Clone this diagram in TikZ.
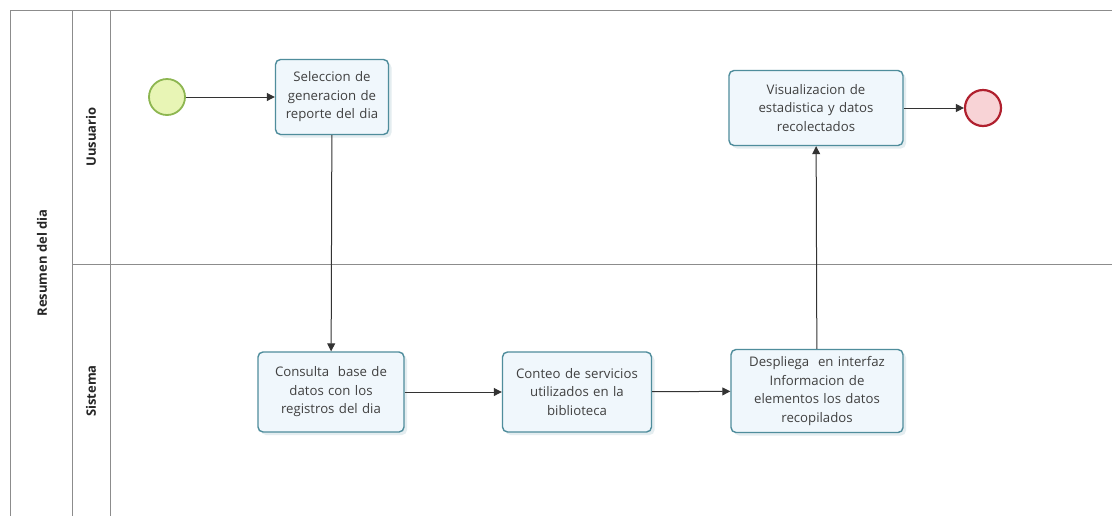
\documentclass[tikz,border=0pt]{standalone}
\usepackage{fontspec}
\setmainfont{Open Sans}
\usetikzlibrary{shadows,arrows.meta}
\definecolor{taskfill}{HTML}{F0F7FC}
\definecolor{taskdraw}{HTML}{4F8D9C}
\definecolor{startfill}{HTML}{E8F5B5}
\definecolor{startdraw}{HTML}{8DB650}
\definecolor{endfill}{HTML}{F8D3D6}
\definecolor{enddraw}{HTML}{B0202E}
\definecolor{lanegray}{HTML}{8C8C8C}
\tikzset{
  task/.style={draw=taskdraw, line width=1.4pt, fill=taskfill, rounded corners=5pt,
    inner sep=2pt, align=center, font=\fontsize{13.2}{18.5}\selectfont, text=black!75,
    drop shadow={shadow xshift=3pt, shadow yshift=-3pt, opacity=0.25, fill=taskdraw!60}},
  startev/.style={circle, draw=startdraw, line width=1.8pt, fill=startfill, minimum size=36pt, inner sep=0pt},
  endev/.style={circle, draw=enddraw, line width=2.2pt, fill=endfill, minimum size=36pt, inner sep=0pt},
  flow/.style={draw=black!80, line width=1pt, -{Triangle[length=8pt,width=8pt]}},
  lane/.style={draw=lanegray, line width=0.9pt},
  lanelabel/.style={rotate=90, font=\bfseries\fontsize{13}{15}\selectfont, text=black!85}
}
\begin{document}
\begin{tikzpicture}[x=1pt,y=-1pt]
\useasboundingbox (0,0) rectangle (1112,515);
\fill[white] (0,0) rectangle (1112,515);
% pool and lanes
\draw[lane] (10,525) -- (10,10) -- (1120,10);
\draw[lane] (72,10) -- (72,525);
\draw[lane] (110,10) -- (110,525);
\draw[lane] (72,264) -- (1120,264);
\node[lanelabel] (pool) at (42,263) {Resumen del dia};
\node[lanelabel] (usr) at (91,137) {Uusuario};
\node[lanelabel] (sis) at (91,391) {Sistema};
% events and tasks
\node[startev] (start) at (167,97) {};
\node[task, minimum width=113pt, minimum height=75pt, text width=109pt] (t1) at (332,97) {Seleccion de\\generacion de\\reporte del dia};
\node[task, minimum width=146pt, minimum height=80pt, text width=140pt] (t2) at (331,392) {Consulta\ \ base de\\datos con los\\registros del dia};
\node[task, minimum width=149pt, minimum height=80pt, text width=145pt] (t3) at (577,392) {Conteo de servicios\\utilizados en la\\biblioteca};
\node[task, minimum width=172pt, minimum height=83pt, text width=168pt] (t4) at (817,391) {Despliega\ \ en interfaz\\Informacion de\\elementos los datos\\recopilados};
\node[task, minimum width=174pt, minimum height=75pt, text width=168pt] (t5) at (816,108) {Visualizacion de\\estadistica y datos\\recolectados};
\node[endev] (end) at (983,108) {};
% flows
\draw[flow] (start) -- (t1);
\draw[flow] (t1) -- (t2);
\draw[flow] (t2) -- (t3);
\draw[flow] (t3) -- (t4);
\draw[flow] (t4) -- (t5);
\draw[flow] (t5) -- (end);
\end{tikzpicture}
\end{document}
